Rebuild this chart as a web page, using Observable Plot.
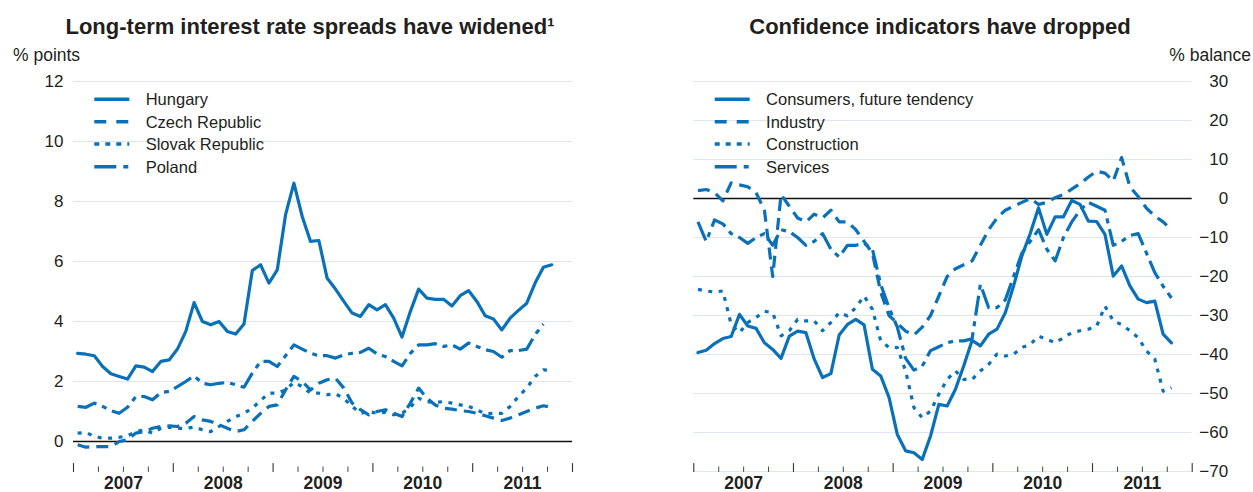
<!DOCTYPE html>
<html>
<head>
<meta charset="utf-8">
<script src="https://cdn.jsdelivr.net/npm/d3@7"></script>
<script src="https://cdn.jsdelivr.net/npm/@observablehq/plot@0.6"></script>
<style>
  html, body { margin: 0; padding: 0; background: #fff; }
  #wrap { position: relative; width: 1253px; height: 492px; overflow: hidden; background: #fff;
          font-family: "Liberation Sans", Arial, Helvetica, sans-serif; color: #231f20; }
  #left, #right { position: absolute; top: 60px; }
  #left { left: 0px; }
  #right { left: 620px; }
  #overlay { position: absolute; left: 0; top: 0; pointer-events: none; }
</style>
</head>
<body>
<div id="wrap">
  <div id="left"></div>
  <div id="right"></div>
  <svg id="overlay" width="1253" height="492" xmlns="http://www.w3.org/2000/svg"></svg>
</div>
<script>
// ---------- DATA (monthly, Jan 2007 onwards) ----------
const startYear = 2007;
const years = [2007, 2008, 2009, 2010, 2011];

// Left panel: long-term interest rate spreads, % points
const spreadSeries = ["Hungary", "Czech Republic", "Slovak Republic", "Poland"];
const hungary = [2.94, 2.91, 2.86, 2.5, 2.26, 2.17, 2.08, 2.52, 2.48, 2.33, 2.67, 2.72,
  3.08, 3.67, 4.63, 4.0, 3.89, 4.0, 3.67, 3.58, 3.92, 5.7, 5.89, 5.28,
  5.72, 7.56, 8.61, 7.5, 6.67, 6.7, 5.44, 5.08, 4.67, 4.28, 4.17, 4.56,
  4.39, 4.56, 4.11, 3.48, 4.33, 5.08, 4.78, 4.74, 4.74, 4.52, 4.86, 5.03,
  4.67, 4.19, 4.08, 3.72, 4.11, 4.37, 4.61, 5.28, 5.81, 5.89];
const czech = [-0.11, -0.19, -0.17, -0.17, -0.17, 0.0, 0.06, 0.28, 0.33, 0.44, 0.5, 0.52,
  0.5, 0.61, 0.83, 0.72, 0.67, 0.56, 0.44, 0.33, 0.39, 0.67, 0.94, 1.17,
  1.22, 1.72, 2.17, 2.0, 1.72, 1.94, 2.06, 2.11, 1.78, 1.28, 1.06, 0.89,
  1.0, 1.06, 0.94, 0.83, 1.28, 1.78, 1.44, 1.22, 1.11, 1.08, 1.03, 1.0,
  0.94, 0.86, 0.78, 0.7, 0.78, 0.89, 1.0, 1.11, 1.19, 1.14];
const slovak = [0.28, 0.3, 0.17, 0.11, 0.11, 0.14, 0.19, 0.33, 0.39, 0.28, 0.44, 0.48,
  0.44, 0.44, 0.48, 0.39, 0.33, 0.5, 0.67, 0.83, 0.94, 1.11, 1.37, 1.61,
  1.61, 1.72, 1.97, 1.83, 1.61, 1.61, 1.56, 1.59, 1.44, 1.17, 0.94, 1.0,
  0.94, 0.97, 0.89, 0.94, 1.14, 1.44, 1.33, 1.3, 1.33, 1.28, 1.22, 1.17,
  1.06, 0.92, 0.94, 0.94, 1.17, 1.5, 1.78, 2.17, 2.39, 2.37];
const poland = [1.17, 1.14, 1.28, 1.17, 1.03, 0.94, 1.14, 1.5, 1.5, 1.39, 1.63, 1.67,
  1.83, 2.0, 2.19, 1.94, 1.89, 1.94, 1.97, 1.89, 1.81, 2.28, 2.67, 2.67,
  2.5, 2.86, 3.22, 3.08, 2.94, 2.86, 2.86, 2.78, 2.89, 2.94, 2.97, 3.11,
  2.92, 2.83, 2.67, 2.52, 2.94, 3.22, 3.22, 3.26, 3.17, 3.22, 3.08, 3.28,
  3.17, 3.06, 3.0, 2.81, 3.03, 3.03, 3.08, 3.56, 3.92];
const leftTicks = [0, 2, 4, 6, 8, 10, 12];

// Right panel: confidence indicators, % balance
const confSeries = ["Consumers, future tendency", "Industry", "Construction", "Services"];
const consumers = [-39.5, -38.9, -37.2, -35.9, -35.4, -29.7, -32.7, -33.3, -37, -38.7, -41, -35.3,
  -34, -34.4, -41.2, -45.9, -44.9, -35, -32.3, -31, -32.4, -43.8, -45.5, -51,
  -60.5, -64.7, -65.2, -66.9, -60.9, -52.8, -53.2, -48.9, -42.9, -36.4, -37.8, -34.8,
  -33.5, -29.3, -22.4, -14.7, -9, -2.4, -9.2, -4.7, -4.7, -0.5, -1.5, -5.8,
  -5.9, -9.2, -19.9, -17.3, -22.4, -25.8, -26.7, -26.3, -34.8, -37];
const industry = [2, 2.3, 1.5, -0.6, 4, 3.5, 3, 1.5, -3, -20, 1, -2,
  -5, -6, -4, -5, -3, -6, -6, -8, -11, -14, -24, -30,
  -32, -34, -35, -33, -30, -25, -20, -18, -17, -16, -12, -8,
  -5, -3, -2, -1, 0, -1.5, -1, 0.2, 1, 2.4, 3.8, 5.5,
  7, 6.5, 4.5, 10.5, 3, 0.5, -2.5, -4.5, -6, -8];
const construction = [-23.3, -23.7, -24, -23.7, -32.3, -34.4, -31.8, -30.5, -28.9, -29.3, -35.2, -33.9,
  -31, -31.4, -31.4, -33.9, -31.8, -29.3, -30.1, -28, -25, -28.4, -36.5, -38.2,
  -38.2, -44.2, -53.6, -56.2, -54.5, -50.2, -46.4, -44.2, -46.4, -46.4, -44.2, -42.5,
  -39.9, -40.4, -39.9, -38.2, -37.4, -35.3, -36.1, -37, -35.7, -34.4, -33.9, -33.5,
  -32.7, -27.6, -31.4, -32.3, -33.9, -35.7, -39.1, -41.2, -49.4, -48.5];
const services = [-6, -11, -5.5, -6.5, -9, -10, -11.5, -10, -9, -12, -8, -8.5,
  -10, -12, -11, -9, -13, -15, -12, -12, -11.5, -13, -22, -28,
  -33, -41, -44, -43, -39, -38, -37, -36.5, -36.5, -36, -22, -28,
  -28, -26, -20, -14, -11, -8, -13, -16, -10, -6, -3, -1,
  -2, -3, -12, -11, -9.5, -9, -14, -19, -22.5, -25.5];
const rightTicks = [-70, -60, -50, -40, -30, -20, -10, 0, 10, 20, 30];

// ---------- STYLE ----------
const blue = "#0a71b8";
const dashes = [null, "12,7", "4,6.5", "20,6,5,6"];
const caps = ["round", "butt", "butt", "butt"];
const font = '"Liberation Sans", Arial, Helvetica, sans-serif';

function toRows(values, name) {
  return values.map((v, i) => ({x: startYear + (i + 0.5) / 12, v, name}));
}
const quarterTicks = d3.range(0, 21).map(k => startYear + k / 4);
const yearTicks = quarterTicks.filter((d, k) => k % 4 === 0);
const minorTicks = quarterTicks.filter((d, k) => k % 4 !== 0);
const tickShape = {draw(ctx, l) { ctx.moveTo(0, 0); ctx.lineTo(0, -l); }};

function panel({series, names, domain, ticks, gridTicks, width, marginLeft, marginRight, yAnchor}) {
  const marks = [
    Plot.ruleY(gridTicks, {stroke: "#dfe5f0", strokeWidth: 1}),
    Plot.ruleY([0], {stroke: "#111", strokeWidth: 1.3}),
    Plot.vector(yearTicks, {x: d => d, frameAnchor: "bottom", length: 8, anchor: "start", shape: tickShape, stroke: "#333", strokeWidth: 1.1}),
    Plot.vector(minorTicks, {x: d => d, frameAnchor: "bottom", length: 4.5, anchor: "start", shape: tickShape, stroke: "#444", strokeWidth: 1}),
    Plot.axisX({ticks: years.map(y => y + 0.5), tickSize: 0, tickPadding: 5, label: null,
      tickFormat: d => String(Math.floor(d)), fontWeight: "bold", fontSize: 17.5}),
    yAnchor === "left"
      ? Plot.axisY({anchor: "left", ticks, tickSize: 0, tickPadding: 10, label: null, fontSize: 17})
      : Plot.axisY({anchor: "right", ticks, tickSize: 0, tickPadding: 36, label: null, textAnchor: "end", fontSize: 17})
  ];
  series.forEach((vals, k) => {
    marks.push(Plot.line(toRows(vals, names[k]), {x: "x", y: "v", stroke: blue, strokeWidth: 3.2,
      strokeDasharray: dashes[k], strokeLinecap: caps[k], strokeLinejoin: "round"}));
  });
  return Plot.plot({
    width, height: 432, marginTop: 21, marginBottom: 21, marginLeft, marginRight,
    x: {domain: [2007, 2012], axis: null},
    y: {domain, axis: null},
    style: {fontFamily: font, color: "#231f20", background: "transparent", overflow: "visible"},
    marks
  });
}

document.getElementById("left").appendChild(panel({
  series: [hungary, czech, slovak, poland], names: spreadSeries,
  domain: [-1, 12], ticks: leftTicks, gridTicks: leftTicks.filter(d => d !== 0),
  width: 600, marginLeft: 73, marginRight: 28, yAnchor: "left"
}));
document.getElementById("right").appendChild(panel({
  series: [consumers, industry, construction, services], names: confSeries,
  domain: [-70, 30], ticks: rightTicks, gridTicks: rightTicks.filter(d => d !== 0),
  width: 633, marginLeft: 73.3, marginRight: 61.3, yAnchor: "right"
}));

// ---------- Titles, units, legends ----------
const ov = d3.select("#overlay").style("font-family", font).style("fill", "#231f20");
ov.append("text").attr("x", 310).attr("y", 34).attr("text-anchor", "middle")
  .attr("font-size", 22).attr("font-weight", "bold").text("Long-term interest rate spreads have widened¹");
ov.append("text").attr("x", 940).attr("y", 34).attr("text-anchor", "middle")
  .attr("font-size", 22).attr("font-weight", "bold").text("Confidence indicators have dropped");
ov.append("text").attr("x", 13).attr("y", 61).attr("font-size", 17.5).text("% points");
ov.append("text").attr("x", 1251).attr("y", 61).attr("text-anchor", "end").attr("font-size", 17.5).text("% balance");

function legend(x0, names) {
  const rowsY = [99.3, 121.7, 144, 166.7];
  names.forEach((n, k) => {
    ov.append("line").attr("x1", x0).attr("x2", x0 + 35).attr("y1", rowsY[k]).attr("y2", rowsY[k])
      .attr("stroke", blue).attr("stroke-width", 3.4)
      .attr("stroke-dasharray", ["none", "12,10", "5,6", "22,7,5"][k]);
    ov.append("text").attr("x", x0 + 51.4).attr("y", rowsY[k] + 6).attr("font-size", 16.5).text(n);
  });
}
legend(94.3, spreadSeries);
legend(714.7, confSeries);
</script>
</body>
</html>
